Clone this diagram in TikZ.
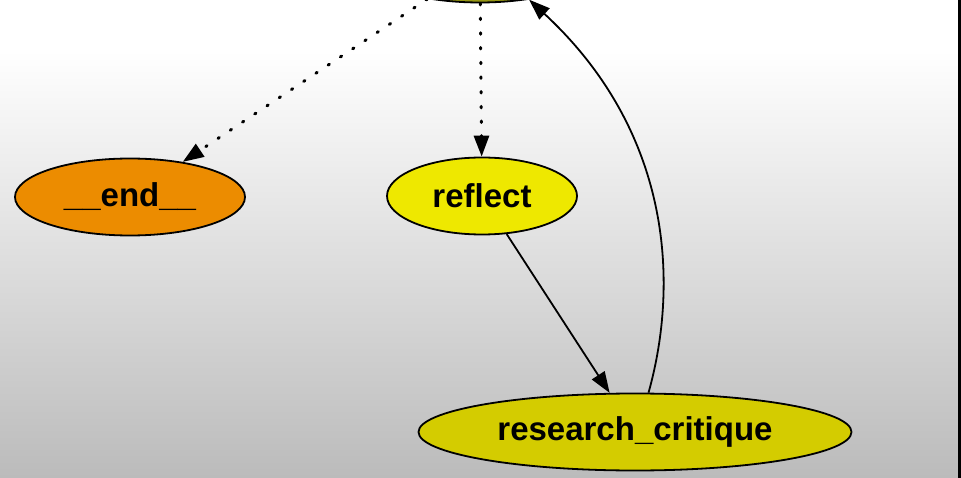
\documentclass[tikz,border=0pt]{standalone}
\usepackage{fontspec}
\setmainfont{Liberation Sans}
\usetikzlibrary{arrows.meta,shapes.geometric}
\definecolor{graphOlive}{RGB}{150,150,20}
\definecolor{graphOrange}{RGB}{236,140,0}
\definecolor{graphYellow}{RGB}{238,232,0}
\definecolor{graphMustard}{RGB}{212,204,0}
\definecolor{graphGrey}{RGB}{187,187,187}

\begin{document}
\begin{tikzpicture}[x=1pt, y=-1pt,
    state/.style={ellipse, draw=black, line width=1.8pt, inner sep=0pt,
                  minimum height=77pt, font=\fontsize{33}{40}\selectfont\bfseries},
    edge/.style={-{Triangle[length=21pt,width=15pt]}, line width=1.8pt, black},
    cond/.style={edge, line cap=round, dash pattern=on 1.5pt off 13.2pt, line width=3pt}
  ]
  \useasboundingbox (0,0) rectangle (961,478);
  \clip (0,0) rectangle (961,478);
  % backdrop
  \fill[white] (0,0) rectangle (961,50);
  \shade[top color=white, bottom color=graphGrey] (0,50) rectangle (961,478);
  \fill[black] (958,0) rectangle (961,478);

  \node[state, fill=graphOlive, minimum width=230pt]   (agent)    at (480,-36) {};
  \node[state, fill=graphOrange, minimum width=230pt]  (finish)   at (130,197) {\_\_end\_\_};
  \node[state, fill=graphYellow, minimum width=190pt]  (reflect)  at (482,196) {reflect};
  \node[state, fill=graphMustard, minimum width=433pt] (critique) at (635,432) {research\_critique};

  \draw[cond] (agent) -- (finish);
  \draw[cond] (agent) -- (reflect);
  \draw[edge] (reflect) -- (critique);
  \draw[edge] (critique.71) .. controls (680,280) and (670,130) .. (agent.-36);
\end{tikzpicture}
\end{document}
